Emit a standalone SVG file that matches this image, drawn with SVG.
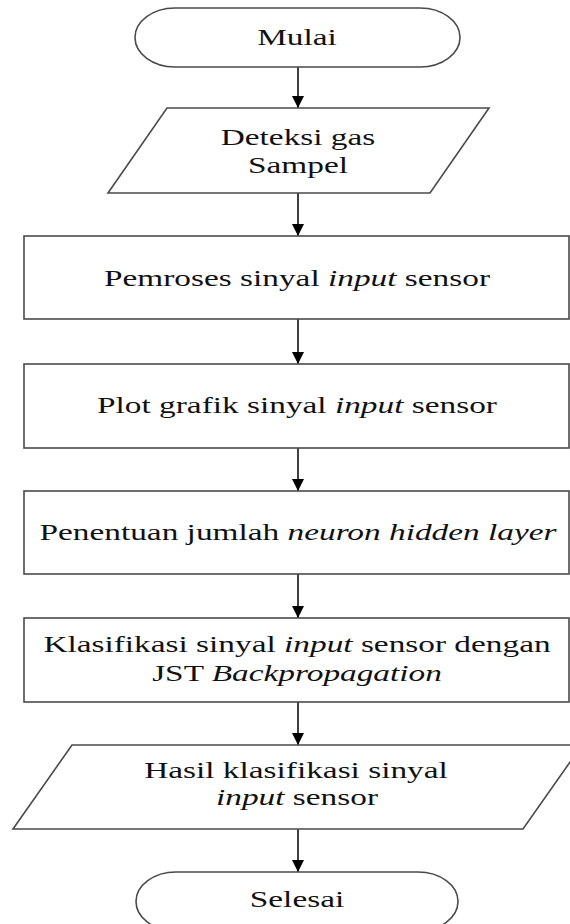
<svg xmlns="http://www.w3.org/2000/svg" width="570" height="924" viewBox="0 0 570 924">
  <style>
    .shape { fill: #ffffff; stroke: #4a4a4a; stroke-width: 1.6; }
    .conn { stroke: #000000; stroke-width: 1.5; fill: none; }
    .t { font-family: "Liberation Serif", "Times New Roman", serif; font-size: 23px; fill: #111111; text-anchor: middle; }
    .i { font-style: italic; }
  </style>
  <defs>
    <marker id="arrow" viewBox="0 0 12 12" refX="12" refY="6" markerWidth="12" markerHeight="12" markerUnits="userSpaceOnUse" orient="auto">
      <path d="M0,0 L12,6 L0,12 z" fill="#000000"/>
    </marker>
  </defs>
  <rect width="570" height="924" fill="#ffffff"/>

  <g id="connectors">
    <line class="conn" x1="298" y1="67" x2="298" y2="108" marker-end="url(#arrow)"/>
    <line class="conn" x1="298" y1="193" x2="298" y2="236" marker-end="url(#arrow)"/>
    <line class="conn" x1="298" y1="319" x2="298" y2="364" marker-end="url(#arrow)"/>
    <line class="conn" x1="298" y1="448" x2="298" y2="491" marker-end="url(#arrow)"/>
    <line class="conn" x1="298" y1="574" x2="298" y2="618" marker-end="url(#arrow)"/>
    <line class="conn" x1="298" y1="702" x2="298" y2="745" marker-end="url(#arrow)"/>
    <line class="conn" x1="298" y1="829" x2="298" y2="872" marker-end="url(#arrow)"/>
  </g>

  <g id="mulai">
    <rect class="shape" x="135" y="8" width="325" height="59" rx="40" ry="29.5"/>
    <text class="t" transform="matrix(1.45 0 0 1 297 45)">Mulai</text>
  </g>

  <g id="deteksi">
    <polygon class="shape" points="167,108 489,108 430,193 108,193"/>
    <text class="t" transform="matrix(1.45 0 0 1 298 145)">Deteksi gas</text>
    <text class="t" transform="matrix(1.45 0 0 1 298 173)">Sampel</text>
  </g>

  <g id="pemroses">
    <rect class="shape" x="24" y="236" width="545" height="83"/>
    <text class="t" transform="matrix(1.45 0 0 1 297 286)">Pemroses sinyal <tspan class="i">input</tspan> sensor</text>
  </g>

  <g id="plot">
    <rect class="shape" x="24" y="364" width="545" height="84"/>
    <text class="t" transform="matrix(1.45 0 0 1 297 413)">Plot grafik sinyal <tspan class="i">input</tspan> sensor</text>
  </g>

  <g id="penentuan">
    <rect class="shape" x="24" y="491" width="545" height="83"/>
    <text class="t" transform="matrix(1.45 0 0 1 298 540)">Penentuan jumlah <tspan class="i">neuron hidden layer</tspan></text>
  </g>

  <g id="klasifikasi">
    <rect class="shape" x="24" y="618" width="545" height="84"/>
    <text class="t" transform="matrix(1.45 0 0 1 297 652)">Klasifikasi sinyal <tspan class="i">input</tspan> sensor dengan</text>
    <text class="t" transform="matrix(1.45 0 0 1 297 681)">JST <tspan class="i">Backpropagation</tspan></text>
  </g>

  <g id="hasil">
    <polygon class="shape" points="72,745 582,745 523,829 13,829"/>
    <text class="t" transform="matrix(1.45 0 0 1 296 778)">Hasil klasifikasi sinyal</text>
    <text class="t" transform="matrix(1.45 0 0 1 297 805)"><tspan class="i">input</tspan> sensor</text>
  </g>

  <g id="selesai">
    <rect class="shape" x="136" y="872" width="322" height="59" rx="40" ry="29.5"/>
    <text class="t" transform="matrix(1.45 0 0 1 297 907)">Selesai</text>
  </g>
</svg>
